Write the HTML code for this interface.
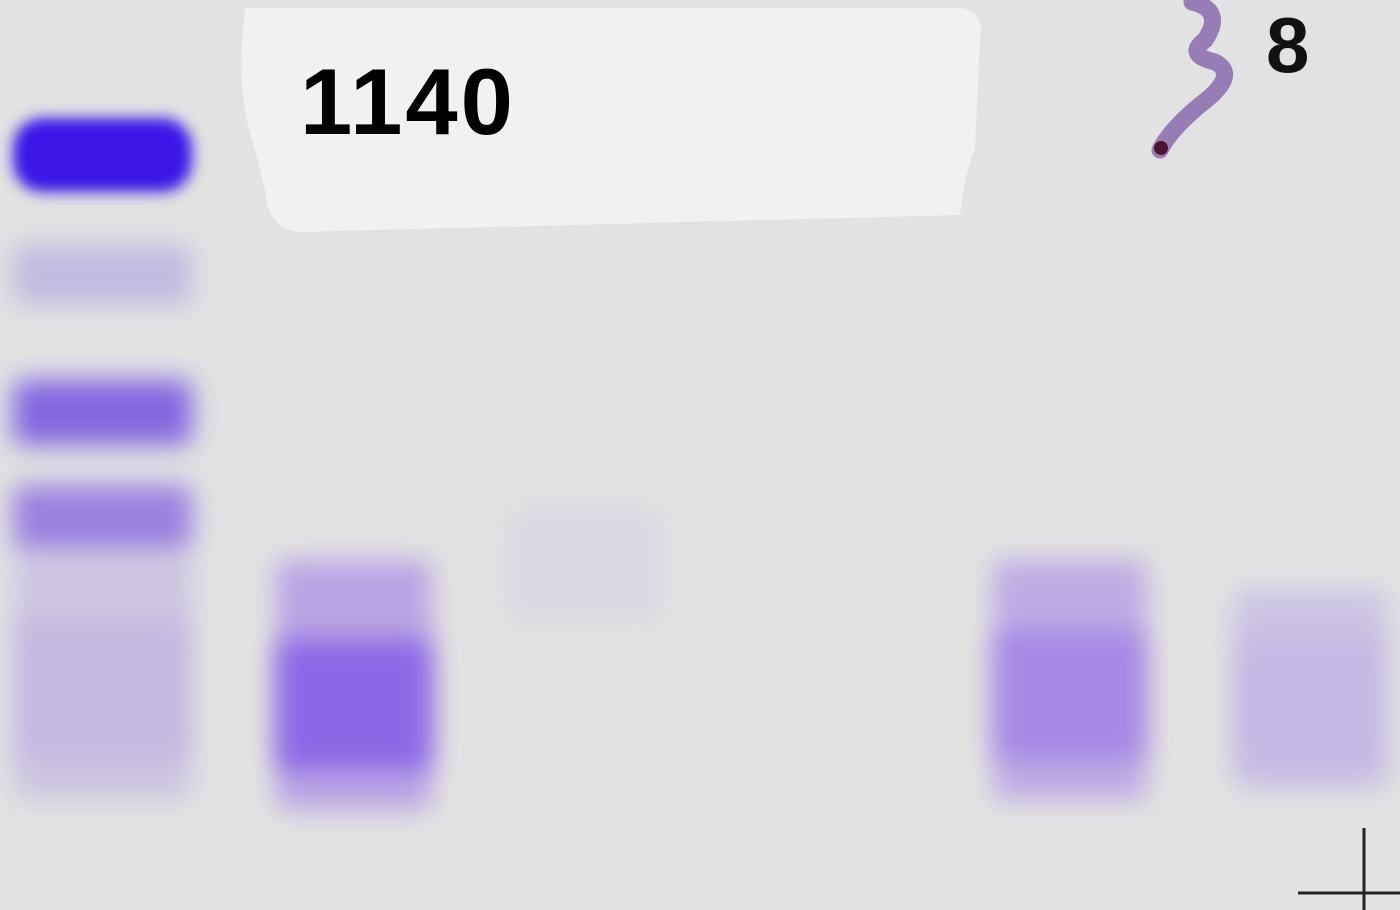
<!DOCTYPE html>
<html><head><meta charset="utf-8"><style>
html,body{margin:0;padding:0;background:#e3e3e3;}
svg{display:block}
</style></head><body>
<svg id="gel" width="1400" height="910" viewBox="0 0 1400 910" xmlns="http://www.w3.org/2000/svg">
<defs>
<filter id="b8" x="-30%" y="-60%" width="160%" height="220%"><feGaussianBlur stdDeviation="7"/></filter>
<filter id="b14" x="-30%" y="-60%" width="160%" height="220%"><feGaussianBlur stdDeviation="13"/></filter>
</defs>
<rect x="0" y="0" width="1400" height="910" fill="#e2e2e2"/>
<g id="bands"></g>
<path d="M245 8 L960 8 Q985 10 980 40 L975 150 Q965 170 960 215 L300 232 Q268 230 265 190 L255 150 Q238 100 242 40 Z" fill="#f1f1f1"/>
<text x="300" y="134" font-family="Liberation Sans, sans-serif" font-weight="bold" font-size="94" letter-spacing="3" fill="#000">1140</text>
<text x="1266" y="72" font-family="Liberation Sans, sans-serif" font-weight="bold" font-size="78" fill="#111">8</text>
<path d="M1192 2 Q1225 10 1205 40 Q1185 55 1215 62 Q1240 75 1200 105 Q1170 130 1160 150" stroke="#8a6aae" stroke-width="17" fill="none" stroke-linecap="round" opacity="0.85"/>
<circle cx="1161" cy="148" r="7" fill="#4a1530"/>
<line x1="1364" y1="828" x2="1364" y2="910" stroke="#222" stroke-width="3"/>
<line x1="1298" y1="893" x2="1400" y2="893" stroke="#222" stroke-width="3"/>
</svg>
<script>
// lanes: x-left, width
const laneX=[5,268,500,985,1225];
const laneW=[195,172,170,170,170];
// bands: lane index, top, bottom, opacity, color
const bandLane=[0,0,0,0,0,0,1,1,2,3,3,4,4];
const bandTop=[118,245,380,485,555,620,560,640,510,560,630,590,640];
const bandBot=[192,305,445,550,800,760,810,770,620,800,760,790,770];
const bandOp=[1,0.35,0.7,0.6,0.25,0.15,0.45,0.6,0.12,0.4,0.35,0.3,0.15];
const bandCol=["#3a12e6","#8a70e0","#5a30e0","#6a40e0","#9070e0","#9070e0","#8a5ae8","#7040e8","#a090e0","#8a5ae8","#7a4ae8","#9a7ae8","#9a7ae8"];
const g=document.getElementById('bands');
const NS='http://www.w3.org/2000/svg';
for(let i=0;i<bandLane.length;i++){
  const l=bandLane[i];
  const r=document.createElementNS(NS,'rect');
  
  
  r.setAttribute('x',laneX[l]+8);
  r.setAttribute('width',laneW[l]-16);
  r.setAttribute('y',bandTop[i]);
  r.setAttribute('height',bandBot[i]-bandTop[i]);
  r.setAttribute('rx',i===0?30:10);
  r.setAttribute('fill',bandCol[i]);
  r.setAttribute('opacity',bandOp[i]);
  r.setAttribute('filter',i===0?'url(#b8)':'url(#b14)');
  g.appendChild(r);
}
</script>
</body></html>
